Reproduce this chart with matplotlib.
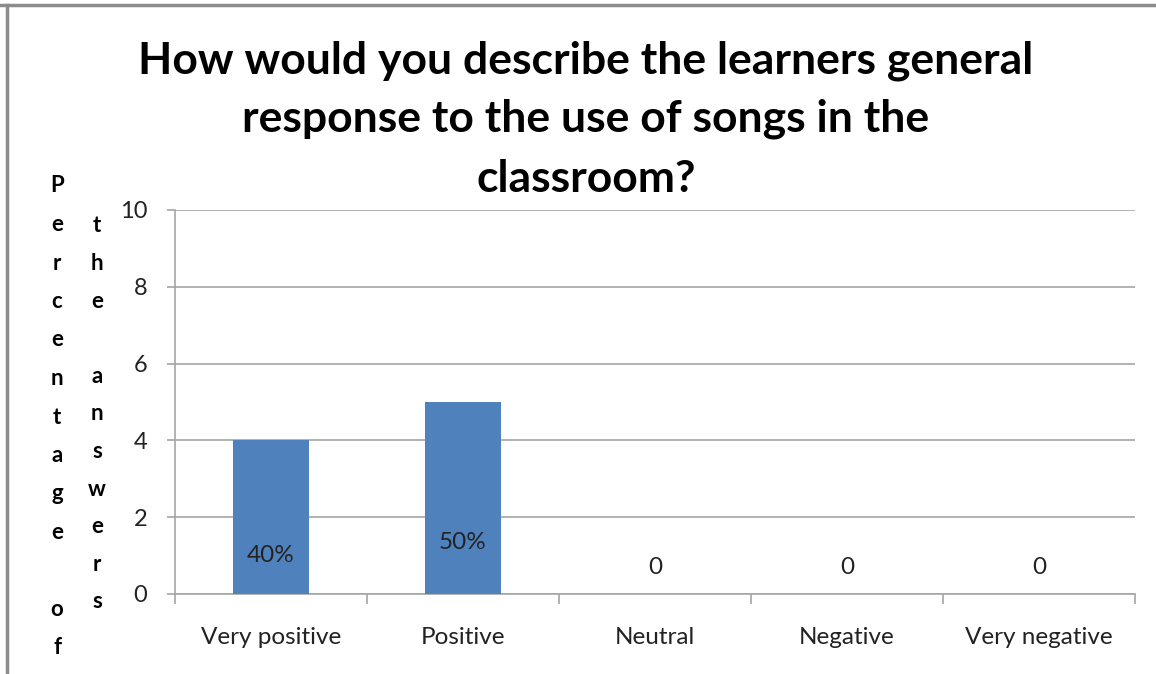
import matplotlib.pyplot as plt
from matplotlib.lines import Line2D

# survey answers (number of learners out of 10)
categories = ["Very positive", "Positive", "Neutral", "Negative", "Very negative"]
values = [4, 5, 0, 0, 0]
total = 10

title_lines = ["How would you describe the learners general",
               "response to the use of songs in the",
               "classroom?"]
ylabel_cols = ["Percentage of", "the answers"]

bar_color = "#4f81bd"
grid_color = "#a6a6a6"
text_color = "#222222"

plt.rcParams['font.family'] = ['Lato', 'DejaVu Sans']

fig = plt.figure(figsize=(11.56, 6.74), dpi=100)
W, H = 1156, 674
ax = fig.add_axes([175 / W, 1 - 594 / H, 960 / W, 384 / H])

x = list(range(len(categories)))
ax.bar(x, values, width=0.4, color=bar_color, zorder=3)

# data labels: percentage for answered, plain 0 for empty
label_y = [1.0, 1.33, 0.7, 0.7, 0.7]
for xi, v, ly in zip(x, values, label_y):
    txt = f"{v / total * 100:.0f}%" if v else "0"
    ax.text(xi, ly, txt, ha="center", va="center", fontsize=17.5,
            color=text_color, zorder=4)

ax.set_xlim(-0.5, len(categories) - 0.5)
ax.set_ylim(0, 10)
ax.set_yticks(range(0, 11, 2))
ax.yaxis.grid(True, color=grid_color, linewidth=1.2, zorder=0)
ax.set_axisbelow(True)

ax.set_xticks(x)
ax.set_xticklabels(categories, fontsize=17.5, color=text_color)
ax.set_xticks([i + 0.5 for i in range(-1, len(categories))], minor=True)
ax.tick_params(axis="x", which="major", length=0, pad=24)
ax.tick_params(axis="x", which="minor", length=7, color=grid_color, width=1.2)
ax.tick_params(axis="y", length=6, color=grid_color, width=1.2, pad=14,
               labelsize=17, labelcolor=text_color)

for s in ["top", "right"]:
    ax.spines[s].set_visible(False)
for s in ["left", "bottom"]:
    ax.spines[s].set_color(grid_color)
    ax.spines[s].set_linewidth(1.2)

# title, three centred lines
for line, yp in zip(title_lines, [61, 119, 179]):
    fig.text(586 / W, 1 - yp / H, line, ha="center", va="center",
             fontsize=32, fontweight="bold", color="black")

# axis label written as stacked letters in two columns
for col_x, start_y, step, word in [(57, 186, 38.5, ylabel_cols[0]),
                                   (97, 226, 37.6, ylabel_cols[1])]:
    for i, ch in enumerate(word):
        if ch == " ":
            continue
        fig.text(col_x / W, 1 - (start_y + i * step) / H, ch, ha="center",
                 va="center", fontsize=16, fontweight="bold", color="black")

# outer chart frame
frame = "#8c8c8c"
fig.add_artist(Line2D([0, 1], [1 - 5 / H] * 2, color=frame, linewidth=2.5,
                      transform=fig.transFigure))
fig.add_artist(Line2D([7 / W] * 2, [0, 1 - 5 / H], color=frame, linewidth=2.5,
                      transform=fig.transFigure))

fig.savefig("out.png", dpi=100)
